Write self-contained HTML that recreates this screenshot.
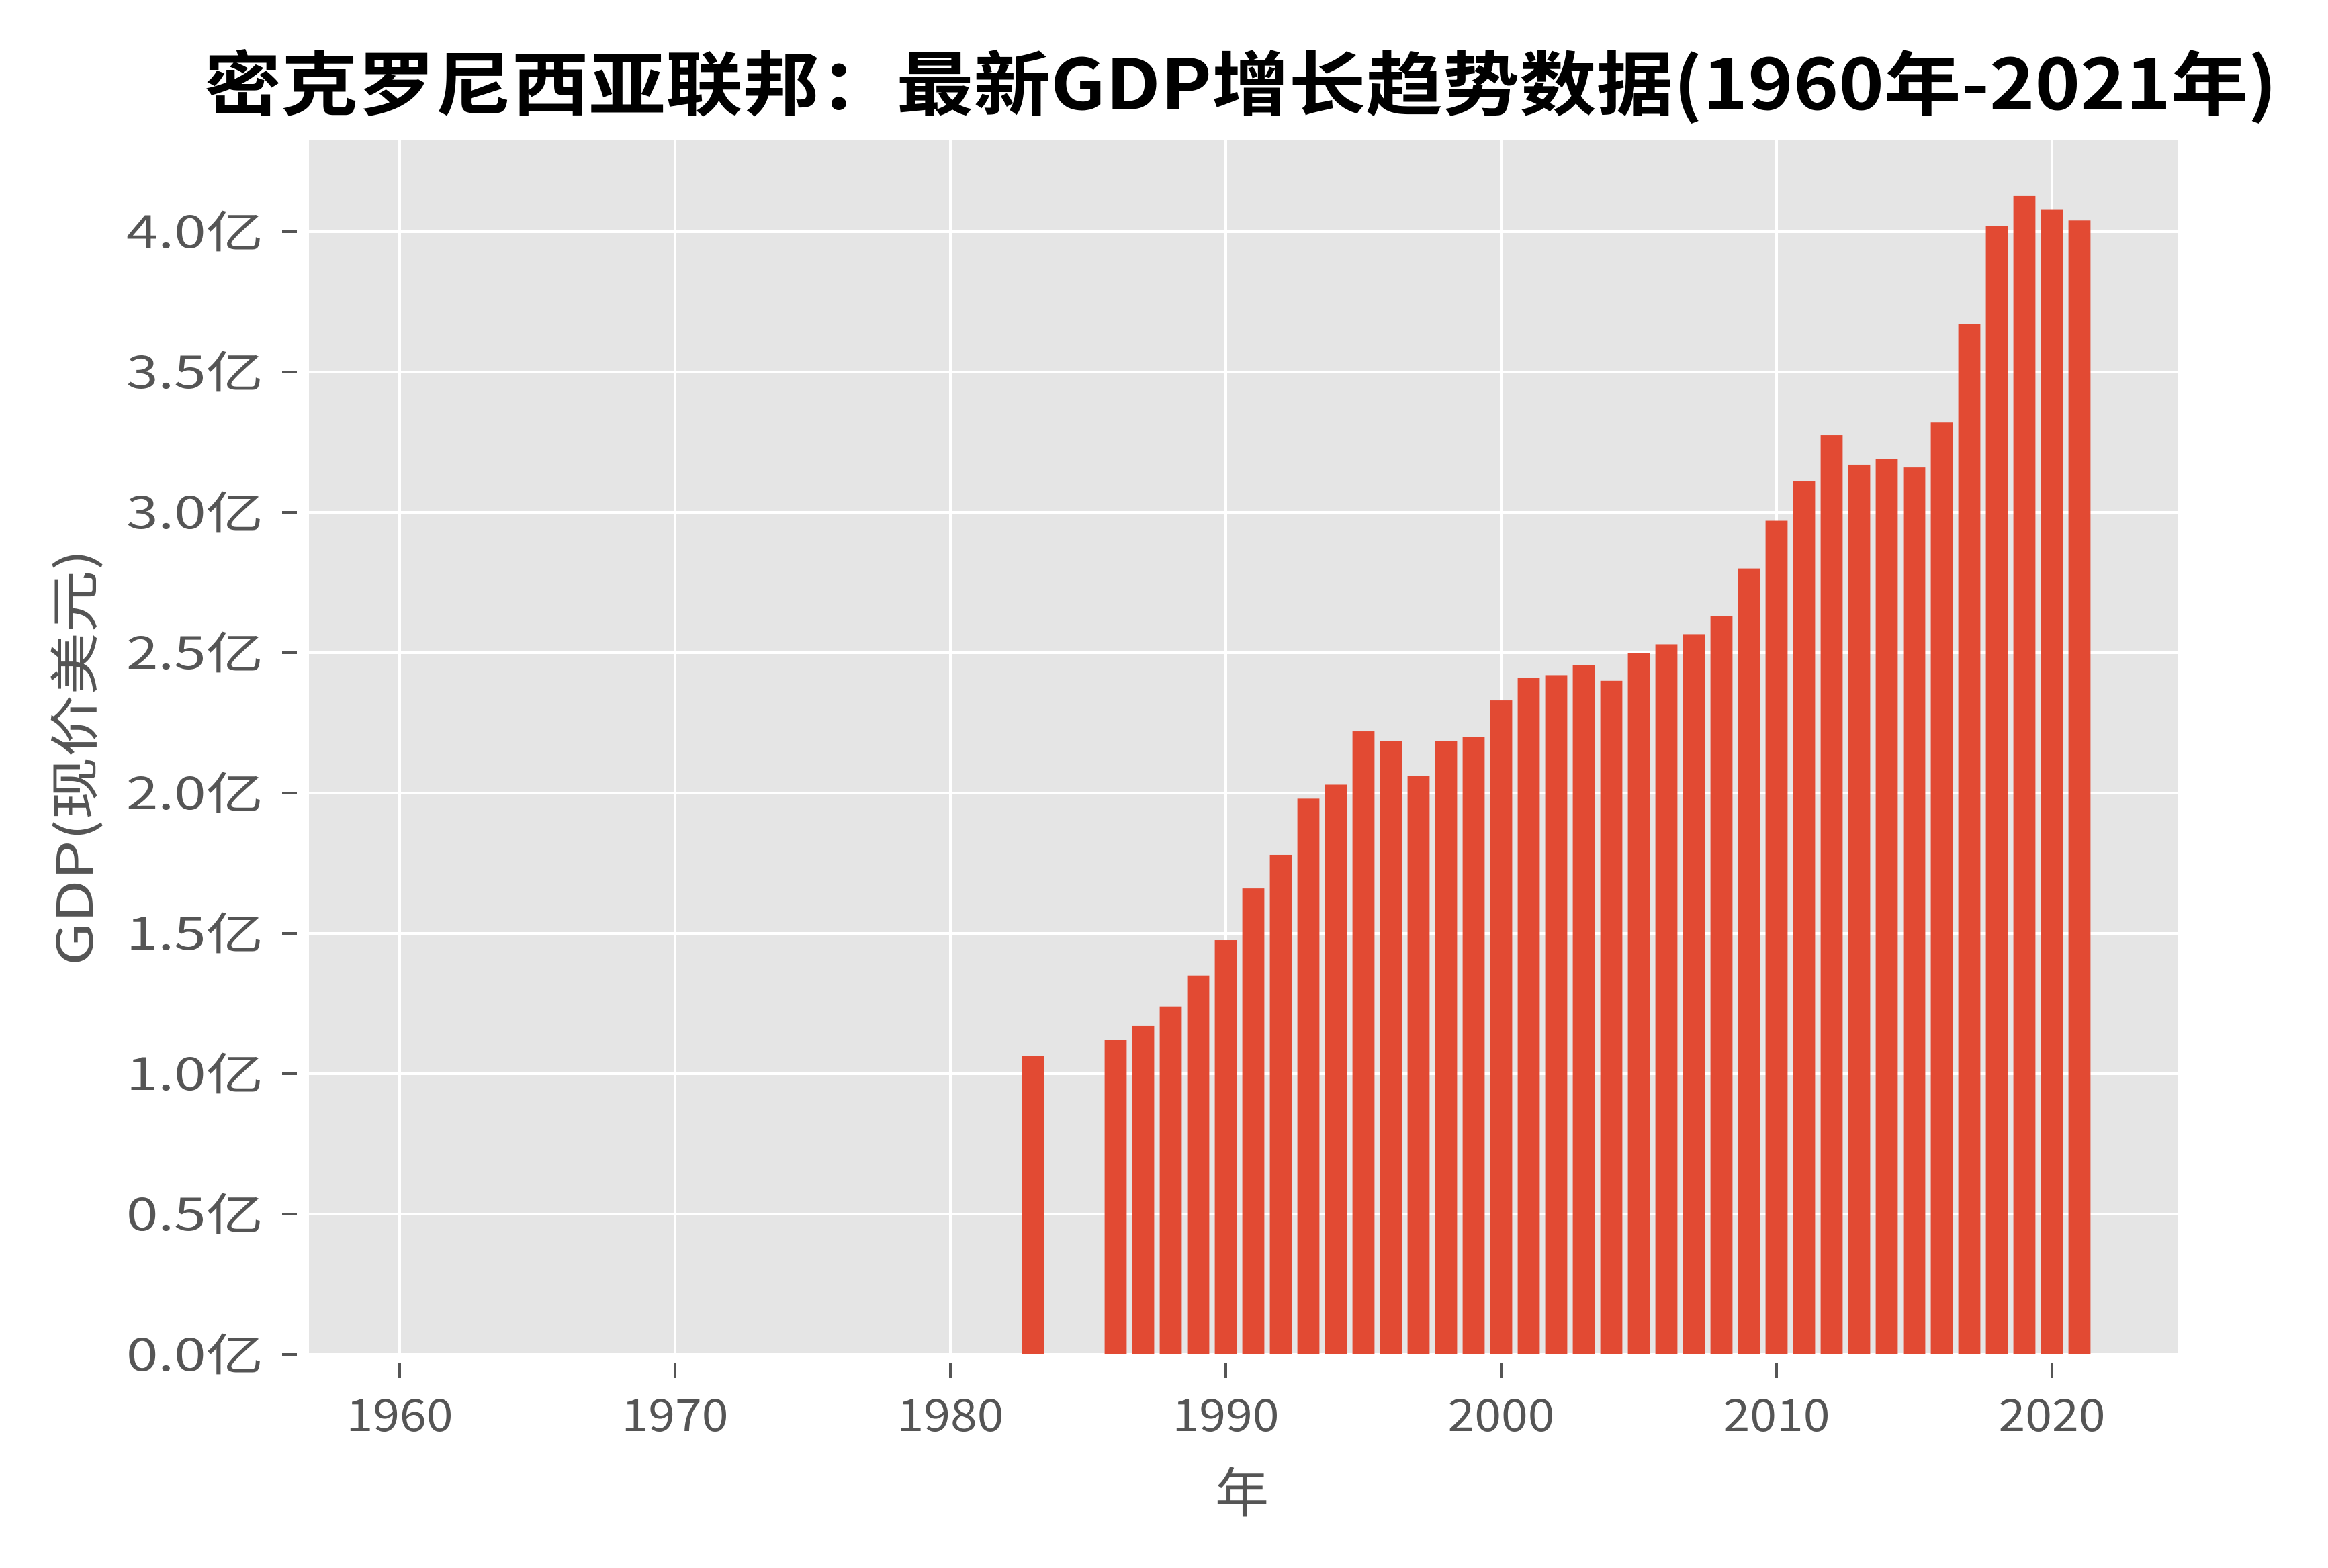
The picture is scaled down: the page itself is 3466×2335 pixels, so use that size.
<!DOCTYPE html>
<html><head><meta charset="utf-8"><style>
html,body{margin:0;padding:0;background:#fff;}
svg text{font-family:"WenQuanYi Zen Hei","Noto Sans CJK SC",sans-serif;}
</style></head><body>
<svg id="chart" width="3466" height="2330" xmlns="http://www.w3.org/2000/svg">
<text x="1847" y="163" font-size="104" font-weight="bold" text-anchor="middle" textLength="3086" lengthAdjust="spacingAndGlyphs" fill="#000">密克罗尼西亚联邦：最新GDP增长趋势数据(1960年-2021年)</text>
<rect x="460" y="208" width="2783" height="1809" fill="#E5E5E5"/>
<g id="grid"></g>
<g id="bars"></g>
<g id="axes"></g>
<text x="1849" y="2252" font-size="80" text-anchor="middle" fill="#555">年</text>
<text transform="translate(138,1128) rotate(-90)" font-size="74" text-anchor="middle" textLength="620" lengthAdjust="spacingAndGlyphs" fill="#555">GDP(现价美元)</text>
</svg>
<script>
const years = [1983,1986,1987,1988,1989,1990,1991,1992,1993,1994,1995,1996,1997,1998,1999,2000,2001,2002,2003,2004,2005,2006,2007,2008,2009,2010,2011,2012,2013,2014,2015,2016,2017,2018,2019,2020,2021];
const gdpYi = [1.063,1.12,1.17,1.24,1.35,1.476,1.66,1.78,1.98,2.03,2.22,2.185,2.06,2.185,2.20,2.33,2.41,2.42,2.455,2.40,2.50,2.53,2.566,2.63,2.80,2.97,3.11,3.275,3.17,3.19,3.16,3.32,3.67,4.02,4.127,4.08,4.04];
const yTicks = [0,0.5,1.0,1.5,2.0,2.5,3.0,3.5,4.0];
const yTickLabels = ["0.0亿","0.5亿","1.0亿","1.5亿","2.0亿","2.5亿","3.0亿","3.5亿","4.0亿"];
const xTicks = [1960,1970,1980,1990,2000,2010,2020];

const NS="http://www.w3.org/2000/svg";
const L=460,R=3243,T=208,B=2017;
function xScale(yr){return 595+(yr-1960)*41.0;}
function yScale(v){return B-v*418;}
function mk(tag,attrs,parent){const e=document.createElementNS(NS,tag);for(const k in attrs)e.setAttribute(k,attrs[k]);parent.appendChild(e);return e;}
const grid=document.getElementById('grid'),bars=document.getElementById('bars'),axes=document.getElementById('axes');
yTicks.forEach((v,i)=>{
  const y=yScale(v);
  const g=mk('line',{x1:L,x2:R,y1:y,y2:y,stroke:'#fff','stroke-width':4},grid);
  
  
  const t=mk('line',{x1:420,x2:442,y1:y,y2:y,stroke:'#555','stroke-width':4},axes);
  
  
  const lb=mk('text',{x:392,y:y+24,'font-size':66,'text-anchor':'end',fill:'#555',textLength:204,lengthAdjust:'spacingAndGlyphs'},axes);
  lb.textContent=yTickLabels[i];
  
  
});
xTicks.forEach(yr=>{
  const x=xScale(yr);
  const g=mk('line',{x1:x,x2:x,y1:T,y2:B,stroke:'#fff','stroke-width':4},grid);
  
  
  const t=mk('line',{x1:x,x2:x,y1:2030,y2:2052,stroke:'#555','stroke-width':4},axes);
  
  
  const lb=mk('text',{x:x,y:2131,'font-size':66,'text-anchor':'middle',fill:'#555',textLength:159,lengthAdjust:'spacingAndGlyphs'},axes);
  lb.textContent=String(yr);
  
  
});
const bw=41.0*0.8;
years.forEach((yr,i)=>{
  const y=yScale(gdpYi[i]);
  const r=mk('rect',{x:xScale(yr)-bw/2,y:y,width:bw,height:B-y,fill:'#E24A33'},bars);
  
  
});
</script>
</body></html>
